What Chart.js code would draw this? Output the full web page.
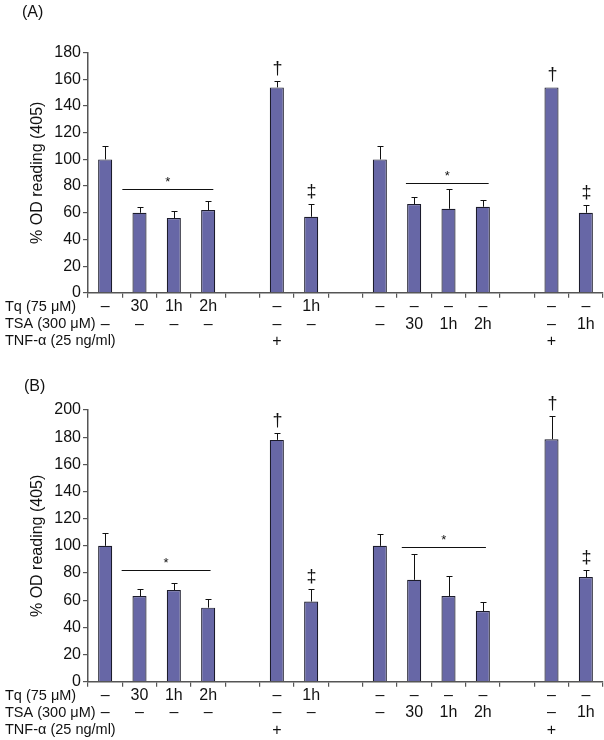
<!DOCTYPE html>
<html>
<head>
<meta charset="utf-8">
<script src="https://cdn.jsdelivr.net/npm/chart.js@4.4.1/dist/chart.umd.min.js"></script>
<style>
  body { margin: 0; background: #fff; }
  .panel { position: absolute; left: 0; width: 604px; height: 370px; }
  .panel canvas { position: absolute; left: 0; top: 0; }
  .tag { position: absolute; font: 16px "Liberation Sans", Arial, sans-serif; color: #111; }
</style>
</head>
<body>
<div class="panel" style="top:0px">
  <canvas id="chartA" width="604" height="370"></canvas>
  <div class="tag" style="left:22px;top:3px">(A)</div>
</div>
<div class="panel" style="top:370px">
  <canvas id="chartB" width="604" height="370"></canvas>
  <div class="tag" style="left:24px;top:7px">(B)</div>
</div>
<script>
// 15 slots along the x axis, empty slots are the gaps between groups
const slots = ['ctrl', 'Tq 30', 'Tq 1h', 'Tq 2h', '', 'TNF', 'TNF+Tq', '',
  'ctrl', 'TSA 30', 'TSA 1h', 'TSA 2h', '', 'TNF', 'TNF+TSA'];

const tqRow  = ['–', '30', '1h', '2h', '', '–', '1h', '', '–', '–', '–', '–', '', '–', '–'];
const tsaRow = ['–', '–', '–', '–', '', '–', '–', '', '–', '30', '1h', '2h', '', '–', '1h'];
const tnfRow = ['', '', '', '', '', '+', '', '', '', '', '', '', '', '+', ''];
const rowNames = ['Tq (75 μM)', 'TSA (300 μM)', 'TNF-α (25 ng/ml)'];

const valuesA = [100, 60, 56, 62, null, 154, 57, null, 100, 66.5, 63, 64.5, null, 154, 60];
const errorsA = [10, 4.5, 5.5, 7, null, 4.5, 9.5, null, 10, 5.5, 15, 5, null, 0, 5.5];
const valuesB = [100, 63, 67.5, 54.5, null, 178, 59, null, 100, 75, 63, 52, null, 178.5, 77];
const errorsB = [9.5, 5, 5.5, 6.5, null, 5, 9.5, null, 9, 19, 15, 7, null, 17, 5];
const marks = ['', '', '', '', '', '†', '‡', '', '', '', '', '', '', '†', '‡'];

// significance bars: slot range and height (data units)
const sigA = [[0.5, 3.15, 78], [8.76, 11.17, 82.3]];
const sigB = [[0.48, 3.07, 82], [8.64, 11.09, 99]];

const FONT = '"Liberation Sans", Arial, Helvetica, sans-serif';
const AXIS = '#555';

const extras = {
  id: 'extras',
  afterDatasetsDraw(chart, args, opts) {
    const { ctx } = chart;
    const x = chart.scales.x, y = chart.scales.y;
    ctx.save();
    ctx.strokeStyle = '#111';
    ctx.fillStyle = '#111';
    ctx.lineWidth = 1;
    opts.values.forEach((v, i) => {
      if (v == null) return;
      const cx = Math.round(x.getPixelForValue(i)) + 0.5;
      const yTop = y.getPixelForValue(v);
      const err = opts.errors[i] || 0;
      const yErr = y.getPixelForValue(v + err);
      if (err > 0) {
        ctx.beginPath();
        ctx.moveTo(cx, yTop);
        ctx.lineTo(cx, Math.round(yErr) + 0.5);
        ctx.moveTo(cx - 3, Math.round(yErr) + 0.5);
        ctx.lineTo(cx + 3, Math.round(yErr) + 0.5);
        ctx.stroke();
      }
      if (marks[i]) {
        ctx.font = '18px ' + FONT;
        ctx.textAlign = 'center';
        ctx.textBaseline = 'middle';
        ctx.fillText(marks[i], cx, yErr - 12);
      }
    });
    opts.sig.forEach(([a, b, v]) => {
      const x0 = x.getPixelForValue(a), x1 = x.getPixelForValue(b);
      const yy = Math.round(y.getPixelForValue(v)) + 0.5;
      ctx.beginPath();
      ctx.moveTo(x0, yy);
      ctx.lineTo(x1, yy);
      ctx.stroke();
      ctx.font = '13px ' + FONT;
      ctx.textAlign = 'center';
      ctx.textBaseline = 'alphabetic';
      ctx.fillText('*', (x0 + x1) / 2, yy - 4);
    });
    // condition table under the axis
    const rows = [tqRow, tsaRow, tnfRow];
    rows.forEach((row, r) => {
      const ry = x.top + 14 + r * 17.3;
      ctx.font = '14.5px ' + FONT;
      ctx.textAlign = 'left';
      ctx.textBaseline = 'middle';
      ctx.fillText(rowNames[r], 5, ry);
      ctx.font = '16px ' + FONT;
      ctx.textAlign = 'center';
      row.forEach((t, i) => {
        if (t) ctx.fillText(t, x.getPixelForValue(i), ry);
      });
    });
    ctx.restore();
  }
};

function makeChart(id, values, errors, sig, yMax, padTop, xHeight) {
  return new Chart(document.getElementById(id), {
    type: 'bar',
    data: {
      labels: slots,
      datasets: [{
        data: values,
        backgroundColor: '#6767a6',
        borderColor: '#1c1c2c',
        borderWidth: 1.2,
        barPercentage: 0.41,
        categoryPercentage: 1
      }]
    },
    options: {
      responsive: false,
      animation: false,
      devicePixelRatio: 1,
      layout: { padding: { top: padTop, right: 1, bottom: 0, left: 0 } },
      plugins: {
        legend: { display: false },
        tooltip: { enabled: false },
        extras: { values: values, errors: errors, sig: sig }
      },
      scales: {
        x: {
          grid: { offset: true, drawOnChartArea: false, drawTicks: true, tickLength: 5, color: AXIS, lineWidth: 1.2 },
          border: { display: true, color: AXIS, width: 1.5 },
          ticks: { autoSkip: false, maxRotation: 0, callback: () => '' },
          afterFit: (s) => { s.height = xHeight; }
        },
        y: {
          min: 0,
          max: yMax,
          ticks: { stepSize: 20, color: '#111', font: { family: FONT, size: 16 }, padding: 2 },
          grid: { drawOnChartArea: false, drawTicks: true, tickLength: 5, color: AXIS, lineWidth: 1.2 },
          border: { display: true, color: AXIS, width: 1.5 },
          title: {
            display: true,
            text: '% OD reading (405)',
            color: '#111',
            font: { family: FONT, size: 16 },
            padding: { top: 28, bottom: 0 }
          },
          afterFit: (s) => { s.width = 88; }
        }
      }
    },
    plugins: [extras]
  });
}

makeChart('chartA', valuesA, errorsA, sigA, 180, 52.7, 77.2);
makeChart('chartB', valuesB, errorsB, sigB, 200, 40, 58.3);
</script>
</body>
</html>
